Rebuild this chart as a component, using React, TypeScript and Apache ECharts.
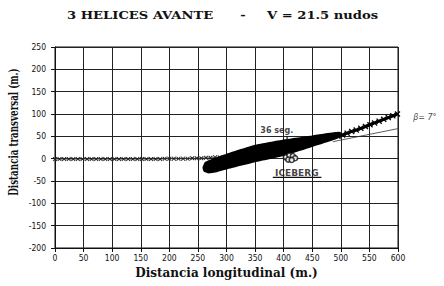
import React, { useEffect, useRef } from "react";
import * as echarts from "echarts";

// Ship trajectory before the manoeuvre (crosses along y ~ 0)
const trackX = [0, 8, 16, 24, 32, 40, 48, 56, 64, 72, 80, 88, 96, 104, 112, 120, 128, 136, 144, 152, 160, 168, 176, 184, 192, 200, 208, 216, 224, 232, 240, 248, 256, 264, 272, 280, 288];
const trackY = [-1, -1, -1, -1, -1, -1, -1, -1, -1, -1, -1, -1, -1, -1, -1, -1, -1, -1, -1, -1, -1, -1, -1, -1, 0, 0, 0, 0, 0, 0, 1, 1, 1, 2, 2, 3, 3];

// Swept area of the hull during the turn (polygon outline)
const bandX = [258, 262, 272, 300, 350, 400, 450, 497, 502, 495, 450, 400, 350, 300, 280, 268, 260];
const bandY = [-20, -8, -2, 11, 31, 43, 52, 60, 54, 45, 26, 6, -8, -24, -31, -33, -29];

// Trajectory after the turn (bold crosses)
const exitX = [495, 503, 511, 519, 527, 535, 543, 551, 559, 567, 575, 583, 591, 599];
const exitY = [50, 53, 57, 61, 64, 68, 72, 76, 80, 84, 88, 92, 96, 100];

// Angle construction lines (beta = 7 deg)
const lowerX = [486, 673];
const lowerY = [38, 86];
const upperX = [599, 673];
const upperY = [99, 125];
const arcX = [620, 624, 625, 622];
const arcY = [102, 93, 84, 74];

// Iceberg sketch
const icebergX = [404, 410, 416, 420, 408, 414];
const icebergY = [3, 7, 6, 1, -2, -3];

// Annotations
const notes = [
  { text: "36 seg.", x: 388, y: 64 },
  { text: "ICEBERG", x: 423, y: -32 },
  { text: "β= 7°", x: 647, y: 93 },
];
const tickMarkX = [406, 406];
const tickMarkY = [50, 41];
const underlineX = [381, 466];
const underlineY = [-42, -42];

const xTicks = { min: 0, max: 600, interval: 50 };
const yTicks = { min: -200, max: 250, interval: 50 };

const zip = (xs: number[], ys: number[]) => xs.map((x, i) => [x, ys[i]]);

const crossPath =
  "path://M0,1.5L1.5,0L5,3.5L8.5,0L10,1.5L6.5,5L10,8.5L8.5,10L5,6.5L1.5,10L0,8.5L3.5,5Z";

const labelFont = "'Liberation Sans Narrow', 'DejaVu Sans Condensed', 'Liberation Sans', sans-serif";

export default function App() {
  const ref = useRef<HTMLDivElement>(null);
  useEffect(() => {
    document.body.style.margin = "0";
    if (!ref.current) return;
    const chart = echarts.init(ref.current, null, { renderer: "svg" });
    const axisCommon = {
      type: "value" as const,
      axisLine: { show: true, onZero: false, lineStyle: { color: "#111", width: 1 } },
      axisTick: { show: true, length: 4, lineStyle: { color: "#111", width: 1 } },
      axisLabel: { fontSize: 8.5, color: "#111", fontFamily: labelFont },
      splitLine: { show: true, lineStyle: { color: "#222", width: 1 } },
    };
    chart.setOption({
      animation: false,
      backgroundColor: "#fff",
      grid: { left: 55, right: 46, top: 47, bottom: 38, show: true, borderColor: "#111", borderWidth: 1 },
      xAxis: {
        ...axisCommon,
        ...xTicks,
        axisLabel: { ...axisCommon.axisLabel, margin: 5 },
        name: "Distancia longitudinal (m.)",
        nameLocation: "middle",
        nameGap: 17,
        nameTextStyle: { fontFamily: "'DejaVu Serif'", fontWeight: "bold", fontSize: 12, color: "#111" },
      },
      yAxis: {
        ...axisCommon,
        ...yTicks,
        axisLabel: { ...axisCommon.axisLabel, margin: 9 },
      },
      graphic: [
        {
          type: "text", x: 67, y: 15, scaleX: 1.25,
          style: { text: "3 HELICES AVANTE", font: "bold 10.5px 'DejaVu Serif'", fill: "#111", textAlign: "left", textVerticalAlign: "middle", align: "left", verticalAlign: "middle" },
        },
        {
          type: "text", x: 243, y: 15, scaleX: 1.25,
          style: { text: "-", font: "bold 10.5px 'DejaVu Serif'", fill: "#111", textAlign: "center", textVerticalAlign: "middle", align: "center", verticalAlign: "middle" },
        },
        {
          type: "text", x: 267, y: 15, scaleX: 1.25,
          style: { text: "V = 21.5 nudos", font: "bold 10.5px 'DejaVu Serif'", fill: "#111", textAlign: "left", textVerticalAlign: "middle", align: "left", verticalAlign: "middle" },
        },
        {
          type: "text", x: 14, y: 132, rotation: Math.PI / 2, scaleX: 0.7,
          style: { text: "Distancia transversal (m.)", font: "bold 12.5px 'DejaVu Serif'", fill: "#111", textAlign: "center", textVerticalAlign: "middle", align: "center", verticalAlign: "middle" },
        },
      ],
      series: [
        {
          type: "line",
          data: zip(trackX, trackY),
          symbol: crossPath,
          symbolSize: 4.5,
          showSymbol: true,
          lineStyle: { color: "#444", width: 0.8 },
          itemStyle: { color: "#222" },
          z: 3,
        },
        {
          type: "custom",
          data: [[0, 0]],
          renderItem: (_params: any, api: any) => {
            const pts = bandX.map((x, i) => api.coord([x, bandY[i]]));
            return { type: "polygon", shape: { points: pts, smooth: 0.15 }, style: { fill: "#000" } };
          },
          z: 4,
        },
        {
          type: "line",
          data: zip(exitX, exitY),
          symbol: crossPath,
          symbolSize: 6,
          showSymbol: true,
          lineStyle: { color: "#000", width: 3 },
          itemStyle: { color: "#000" },
          clip: false,
          z: 5,
        },
        {
          type: "line",
          data: zip(lowerX, lowerY),
          symbol: "none",
          lineStyle: { color: "#333", width: 0.8 },
          clip: false,
          z: 5,
        },
        {
          type: "line",
          data: zip(upperX, upperY),
          symbol: "none",
          lineStyle: { color: "#555", width: 0.8, type: [2, 1.5] },
          clip: false,
          z: 5,
        },
        {
          type: "line",
          data: zip(arcX, arcY),
          symbol: "none",
          smooth: true,
          lineStyle: { color: "#333", width: 0.8 },
          clip: false,
          z: 5,
        },
        {
          type: "line",
          data: zip(tickMarkX, tickMarkY),
          symbol: "none",
          lineStyle: { color: "#111", width: 1.2 },
          z: 5,
        },
        {
          type: "line",
          data: zip(underlineX, underlineY),
          symbol: "none",
          lineStyle: { color: "#111", width: 1.2 },
          z: 5,
        },
        {
          type: "scatter",
          data: zip(icebergX, icebergY),
          symbol: "circle",
          symbolSize: 5,
          itemStyle: { color: "#fff", borderColor: "#111", borderWidth: 1.6 },
          z: 6,
        },
        {
          type: "scatter",
          clip: false,
          symbolSize: 0,
          data: notes.map((n) => ({
            value: [n.x, n.y],
            label: {
              show: true,
              formatter: n.text,
              position: "inside",
              fontSize: n.text === "ICEBERG" ? 9 : 8,
              fontWeight: n.text === "β= 7°" ? "normal" : "bold",
              fontStyle: n.text === "β= 7°" ? "italic" : "normal",
              fontFamily: "'DejaVu Sans', sans-serif",
              color: "#111",
            },
          })),
          z: 7,
        },
      ],
    });
    return () => chart.dispose();
  }, []);
  return <div ref={ref} style={{ width: 444, height: 286 }} />;
}
